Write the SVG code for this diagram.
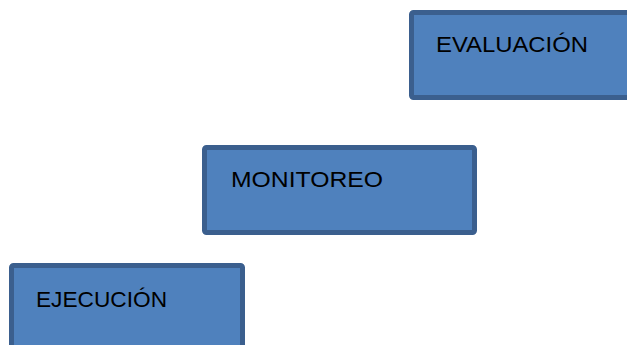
<svg xmlns="http://www.w3.org/2000/svg" width="627" height="345" viewBox="0 0 627 345">
<style>
.box{fill:#4F81BD;stroke:#3B5F8E;stroke-width:5}
.lbl{font-family:"Liberation Sans",Arial,sans-serif;font-size:22px;fill:#000}
</style>
<rect width="627" height="345" fill="#fff"/>
<g id="evaluacion">
<rect class="box" x="411.5" y="12.5" width="230" height="85" rx="2"/>
<text class="lbl" x="436" y="52" textLength="152" lengthAdjust="spacingAndGlyphs">EVALUACIÓN</text>
</g>
<g id="monitoreo">
<rect class="box" x="204.5" y="147.5" width="270" height="85" rx="2"/>
<text class="lbl" x="231" y="187" textLength="152" lengthAdjust="spacingAndGlyphs">MONITOREO</text>
</g>
<g id="ejecucion">
<rect class="box" x="11.5" y="265.5" width="231" height="100" rx="2"/>
<text class="lbl" x="36" y="307" textLength="131" lengthAdjust="spacingAndGlyphs">EJECUCIÓN</text>
</g>
<g id="connectors"></g>
</svg>
